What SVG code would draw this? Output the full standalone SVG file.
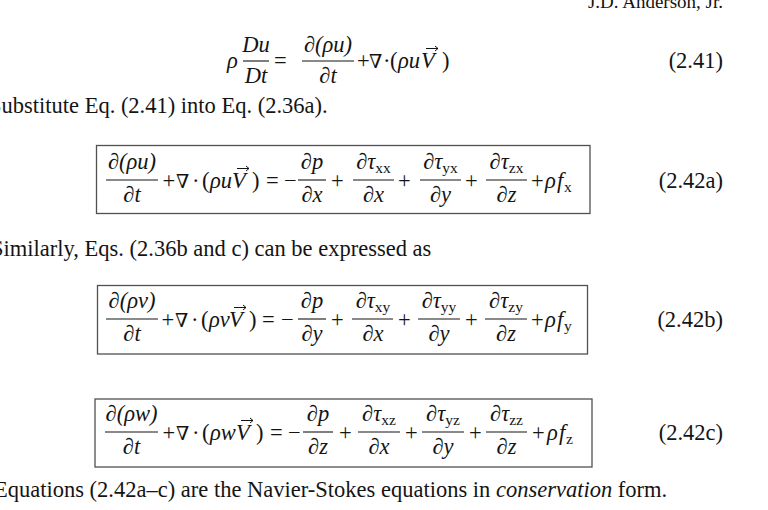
<svg xmlns="http://www.w3.org/2000/svg" width="768" height="510" viewBox="0 0 768 510">
<style>
text { font-family: "Liberation Serif", "Times New Roman", "DejaVu Serif", serif; fill: #141414; }
.body { font-size: 22.5px; }
.hdr { font-size: 19px; }
.eq { font-size: 22.5px; }
.i { font-style: italic; }
.s { font-size: 15.5px; font-style: normal; }
.nab { font-family: "DejaVu Serif", serif; font-style: italic; font-size: 19px; }
.box { fill: none; stroke: #505050; stroke-width: 1.3; }
.bar { stroke: #141414; stroke-width: 1.1; }
.arr { fill: none; stroke: #141414; stroke-width: 1; }
.m { text-anchor: middle; }
.e { text-anchor: end; }
</style>
<rect width="768" height="510" fill="#ffffff"/>

<text class="hdr e" x="723" y="8">J.D. Anderson, Jr.</text>

<g id="eq241">
  <text class="eq i" x="227" y="68">ρ</text>
  <text class="eq i m" x="256" y="52">Du</text>
  <line class="bar" x1="243" y1="61" x2="269" y2="61"/>
  <text class="eq i m" x="256" y="83">Dt</text>
  <text class="eq" x="274" y="68">=</text>
  <text class="eq i m" x="328" y="52">∂(ρu)</text>
  <line class="bar" x1="302" y1="61" x2="354" y2="61"/>
  <text class="eq i m" x="328" y="83">∂t</text>
  <text class="eq" x="357" y="68">+</text>
  <text class="nab" x="369" y="68">∇</text>
  <text class="eq" x="383" y="68">·</text>
  <text class="eq" x="390" y="68">(</text>
  <text class="eq i" x="398" y="68">ρu</text>
  <text class="eq i" x="421" y="68">V</text>
  <path class="arr" d="M426 48.5 H438 M435 46 L438 48.5 L435 51"/>
  <text class="eq" x="442" y="68">)</text>
  <text class="body e" x="723" y="68">(2.41)</text>
</g>

<text class="body" x="-11" y="113">Substitute Eq. (2.41) into Eq. (2.36a).</text>

<g id="eq242a">
  <rect class="box" x="96.5" y="145.5" width="493.5" height="68"/>
  <text class="eq i m" x="132" y="169">∂(ρu)</text>
  <line class="bar" x1="106" y1="180" x2="158" y2="180"/>
  <text class="eq i m" x="132" y="202">∂t</text>
  <text class="eq" x="162.5" y="188">+</text>
  <text class="nab" x="176" y="188">∇</text>
  <text class="eq" x="192" y="188">·</text>
  <text class="eq" x="202" y="188">(</text>
  <text class="eq i" x="210" y="188">ρu</text>
  <text class="eq i" x="232" y="188">V</text>
  <path class="arr" d="M237 168.5 H249 M246 166 L249 168.5 L246 171"/>
  <text class="eq" x="252" y="188">)</text>
  <text class="eq" x="266" y="188">=</text>
  <text class="eq" x="284" y="188">−</text>
  <text class="eq i m" x="312" y="169">∂p</text>
  <line class="bar" x1="298" y1="180" x2="326" y2="180"/>
  <text class="eq i m" x="312" y="202">∂x</text>
  <text class="eq" x="331" y="188">+</text>
  <text class="eq m" x="373.5" y="169"><tspan class="i">∂τ</tspan><tspan class="s" dy="4">xx</tspan></text>
  <line class="bar" x1="353" y1="180" x2="394" y2="180"/>
  <text class="eq i m" x="373.5" y="202">∂x</text>
  <text class="eq" x="398" y="188">+</text>
  <text class="eq m" x="440.5" y="169"><tspan class="i">∂τ</tspan><tspan class="s" dy="4">yx</tspan></text>
  <line class="bar" x1="420" y1="180" x2="461" y2="180"/>
  <text class="eq i m" x="440.5" y="202">∂y</text>
  <text class="eq" x="465" y="188">+</text>
  <text class="eq m" x="506.5" y="169"><tspan class="i">∂τ</tspan><tspan class="s" dy="4">zx</tspan></text>
  <line class="bar" x1="486" y1="180" x2="527" y2="180"/>
  <text class="eq i m" x="506.5" y="202">∂z</text>
  <text class="eq" x="531" y="188">+</text>
  <text class="eq i" x="545" y="188">ρ</text>
  <text class="eq i" x="557" y="188">f</text>
  <text class="eq s" x="564" y="192">x</text>
  <text class="body e" x="723" y="188">(2.42a)</text>
</g>

<text class="body" x="-9" y="256">Similarly, Eqs. (2.36b and c) can be expressed as</text>

<g id="eq242b">
  <rect class="box" x="97.5" y="285.5" width="490" height="68.5"/>
  <text class="eq i m" x="132" y="308">∂(ρv)</text>
  <line class="bar" x1="106" y1="319" x2="158" y2="319"/>
  <text class="eq i m" x="132" y="341">∂t</text>
  <text class="eq" x="161.5" y="327">+</text>
  <text class="nab" x="175" y="327">∇</text>
  <text class="eq" x="191" y="327">·</text>
  <text class="eq" x="201" y="327">(</text>
  <text class="eq i" x="209" y="327">ρv</text>
  <text class="eq i" x="229" y="327">V</text>
  <path class="arr" d="M234 307.5 H246 M243 305 L246 307.5 L243 310"/>
  <text class="eq" x="249" y="327">)</text>
  <text class="eq" x="262" y="327">=</text>
  <text class="eq" x="281" y="327">−</text>
  <text class="eq i m" x="312" y="308">∂p</text>
  <line class="bar" x1="298" y1="319" x2="326" y2="319"/>
  <text class="eq i m" x="312" y="341">∂y</text>
  <text class="eq" x="331" y="327">+</text>
  <text class="eq m" x="373" y="308"><tspan class="i">∂τ</tspan><tspan class="s" dy="4">xy</tspan></text>
  <line class="bar" x1="352" y1="319" x2="393" y2="319"/>
  <text class="eq i m" x="373" y="341">∂x</text>
  <text class="eq" x="398" y="327">+</text>
  <text class="eq m" x="439" y="308"><tspan class="i">∂τ</tspan><tspan class="s" dy="4">yy</tspan></text>
  <line class="bar" x1="418" y1="319" x2="460" y2="319"/>
  <text class="eq i m" x="439" y="341">∂y</text>
  <text class="eq" x="465" y="327">+</text>
  <text class="eq m" x="506" y="308"><tspan class="i">∂τ</tspan><tspan class="s" dy="4">zy</tspan></text>
  <line class="bar" x1="485" y1="319" x2="527" y2="319"/>
  <text class="eq i m" x="506" y="341">∂z</text>
  <text class="eq" x="531" y="327">+</text>
  <text class="eq i" x="545" y="327">ρ</text>
  <text class="eq i" x="557" y="327">f</text>
  <text class="eq s" x="564" y="331">y</text>
  <text class="body e" x="723" y="327">(2.42b)</text>
</g>

<g id="eq242c">
  <rect class="box" x="95" y="399" width="497" height="68"/>
  <text class="eq i m" x="131.5" y="421">∂(ρw)</text>
  <line class="bar" x1="105" y1="432" x2="158" y2="432"/>
  <text class="eq i m" x="131.5" y="454">∂t</text>
  <text class="eq" x="162.5" y="440">+</text>
  <text class="nab" x="176" y="440">∇</text>
  <text class="eq" x="192" y="440">·</text>
  <text class="eq" x="202" y="440">(</text>
  <text class="eq i" x="210" y="440">ρw</text>
  <text class="eq i" x="236" y="440">V</text>
  <path class="arr" d="M241 420.5 H253 M250 418 L253 420.5 L250 423"/>
  <text class="eq" x="256" y="440">)</text>
  <text class="eq" x="270" y="440">=</text>
  <text class="eq" x="288" y="440">−</text>
  <text class="eq i m" x="318" y="421">∂p</text>
  <line class="bar" x1="303" y1="432" x2="333" y2="432"/>
  <text class="eq i m" x="318" y="454">∂z</text>
  <text class="eq" x="339" y="440">+</text>
  <text class="eq m" x="379" y="421"><tspan class="i">∂τ</tspan><tspan class="s" dy="4">xz</tspan></text>
  <line class="bar" x1="358" y1="432" x2="400" y2="432"/>
  <text class="eq i m" x="379" y="454">∂x</text>
  <text class="eq" x="405" y="440">+</text>
  <text class="eq m" x="443" y="421"><tspan class="i">∂τ</tspan><tspan class="s" dy="4">yz</tspan></text>
  <line class="bar" x1="422" y1="432" x2="464" y2="432"/>
  <text class="eq i m" x="443" y="454">∂y</text>
  <text class="eq" x="469" y="440">+</text>
  <text class="eq m" x="506.5" y="421"><tspan class="i">∂τ</tspan><tspan class="s" dy="4">zz</tspan></text>
  <line class="bar" x1="486" y1="432" x2="527" y2="432"/>
  <text class="eq i m" x="506.5" y="454">∂z</text>
  <text class="eq" x="532" y="440">+</text>
  <text class="eq i" x="547" y="440">ρ</text>
  <text class="eq i" x="559" y="440">f</text>
  <text class="eq s" x="566" y="444">z</text>
  <text class="body e" x="723" y="440">(2.42c)</text>
</g>

<text class="body" x="-6" y="497">Equations (2.42a–c) are the Navier-Stokes equations in <tspan class="i">conservation</tspan> form.</text>
</svg>
